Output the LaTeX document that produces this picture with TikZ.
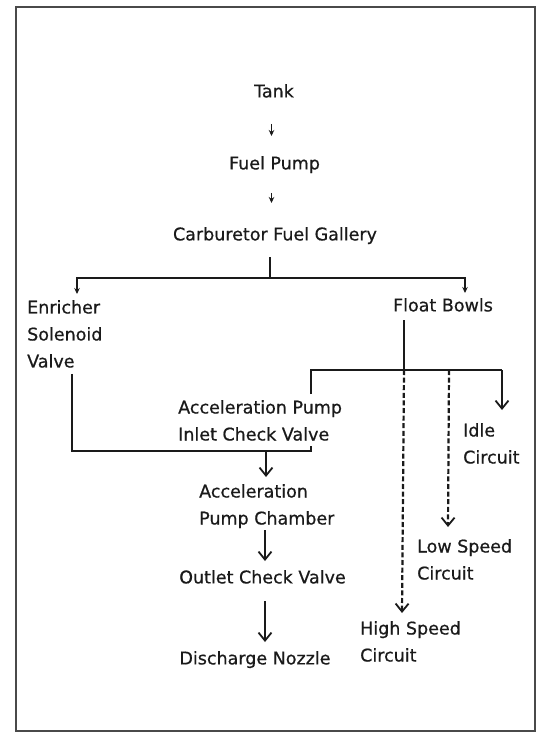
\documentclass[tikz,border=0pt]{standalone}
\usepackage{fontspec}
\setmainfont{DejaVu Sans}[FakeBold=0.6]
\usetikzlibrary{arrows.meta,calc}
\definecolor{ink}{HTML}{1A1A1A}
\definecolor{framecol}{HTML}{4A4A4A}
\begin{document}
\begin{tikzpicture}[x=1pt,y=-1pt,
  lbl/.style={font=\fontsize{17.5}{27}\selectfont, text=ink, inner sep=0pt},
  ml/.style={lbl, align=left, anchor=north west},
  sl/.style={lbl, anchor=base},
  flow/.style={draw=ink, line width=2pt},
  dashflow/.style={draw=ink, line width=2.2pt, dash pattern=on 5pt off 2.6pt},
  vhead/.style={-{Straight Barb[length=8pt,width=13pt,line width=1.8pt]}},
  smallhead/.style={-{Stealth[length=6pt,width=5.5pt]}}]
\useasboundingbox (0,0) rectangle (539,735);
\fill[white] (0,0) rectangle (539,735);
\draw[framecol, line width=2.2pt] (16,7) rectangle (535,731);

% nodes
\node[sl] (tank) at (274,97.4) {Tank};
\node[sl] (pump) at (274.5,169.4) {Fuel Pump};
\node[sl] (gallery) at (275,240.4) {Carburetor Fuel Gallery};
\node[ml] (enricher) at (27,300) {Enricher\\Solenoid\\Valve};
\node[sl] (float) at (443,311.4) {Float Bowls};
\node[ml] (inlet) at (178,400) {Acceleration Pump\\Inlet Check Valve};
\node[ml] (idle) at (463,423) {Idle\\Circuit};
\node[ml] (chamber) at (199,484) {Acceleration\\Pump Chamber};
\node[sl] (outlet) at (262.5,583.4) {Outlet Check Valve};
\node[sl] (nozzle) at (255,664.4) {Discharge Nozzle};
\node[ml] (low) at (417,539) {Low Speed\\Circuit};
\node[ml] (high) at (360,621) {High Speed\\Circuit};

% junction coordinates
\coordinate (split) at (270,278);
\coordinate (fj) at (404,370);
\coordinate (fl) at (311,370);
\coordinate (fm) at (449,370);
\coordinate (fr) at (502,370);
\coordinate (cl) at (72,451);
\coordinate (cr) at (311,451);
\coordinate (cm) at (266,451);

% top chain
\draw[flow, line width=1.6pt, smallhead] ($(tank.base)+(-2.5,26.6)$) -- ($(pump.base)+(-3,-33.4)$);
\draw[flow, line width=1.6pt, smallhead] ($(pump.base)+(-3,23.6)$) -- ($(gallery.base)+(-3.5,-37.4)$);

% gallery split
\draw[flow] ($(gallery.base)+(-5,16.6)$) -- (split);
\draw[flow, smallhead] (split) -| ($(enricher.north west)+(50,-6)$);
\draw[flow, smallhead] (split) -| ($(float.base)+(22,-18.4)$);

% float bowls distribution
\draw[flow] ($(float.base)+(-39,8.6)$) -- (fj);
\draw[flow] ($(inlet.north west)+(133,-6)$) -- (fl) -- (fr);
\draw[flow, vhead] (fr) -- ($(idle.north west)+(39,-13)$);
\draw[dashflow, vhead] (fj) -- ($(high.north west)+(42,-8)$);
\draw[dashflow, vhead] (fm) -- ($(low.north west)+(31,-12)$);

% enricher + inlet check valve to chamber
\draw[flow] ($(enricher.south west)+(45,6)$) -- (cl) -- (cr) -- ($(inlet.south west)+(133,5)$);
\draw[flow, vhead] (cm) -- ($(chamber.north west)+(67,-7)$);
\draw[flow, vhead] ($(chamber.south west)+(66,2)$) -- ($(outlet.base)+(2.5,-22.4)$);
\draw[flow, vhead] ($(outlet.base)+(2.5,17.6)$) -- ($(nozzle.base)+(10,-22.4)$);
\end{tikzpicture}
\end{document}
